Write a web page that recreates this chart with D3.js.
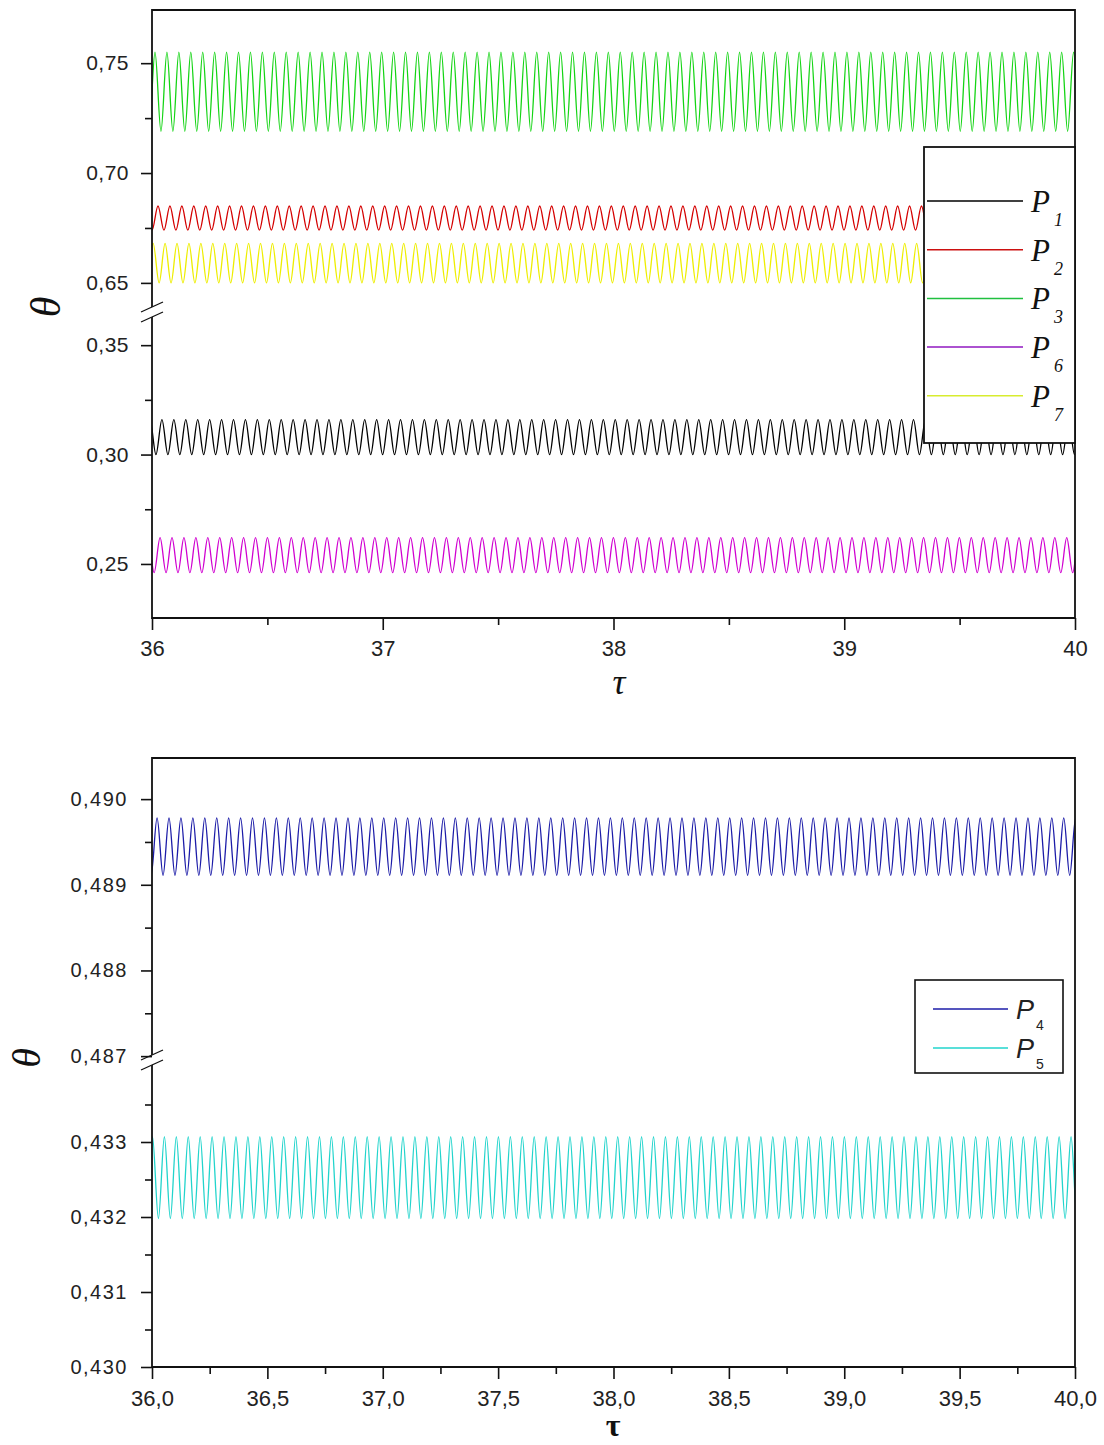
<!DOCTYPE html>
<html><head><meta charset="utf-8">
<script src="https://cdn.jsdelivr.net/npm/d3@7"></script>
<style>html,body{margin:0;padding:0;background:#fff;} svg{display:block;}</style>
</head><body>
<svg id="chart" width="1104" height="1445"></svg>
<script>
// ---------------- data ----------------
const tauDomain = [36, 40];
const oscPeriod = 0.0517;               // ~77 oscillations between τ = 36 and 40

// top panel
const topXTicks = [36, 37, 38, 39, 40];
const topXMinor = [36.5, 37.5, 38.5, 39.5];
const topUpperTicks = [0.65, 0.70, 0.75];
const topUpperMinor = [0.675, 0.725];
const topLowerTicks = [0.25, 0.30, 0.35];
const topLowerMinor = [0.275, 0.325];
const topSubs = ["1", "2", "3", "6", "7"];
const topColors = ["#000000", "#d40000", "#14d414", "#d000d0", "#eeee00"];
const topLegendColors = ["#000000", "#cc1010", "#20c040", "#9018c0", "#d8ec30"];
const topLow = [0.300, 0.674, 0.719, 0.246, 0.650];
const topHigh = [0.316, 0.685, 0.755, 0.262, 0.668];
const topFirstPeak = [36.043, 36.026, 36.013, 36.035, 36.005];
const topSegment = ["lower", "upper", "upper", "lower", "upper"];

// bottom panel
const botXTicks = [36.0, 36.5, 37.0, 37.5, 38.0, 38.5, 39.0, 39.5, 40.0];
const botXMinor = [36.25, 36.75, 37.25, 37.75, 38.25, 38.75, 39.25, 39.75];
const botUpperTicks = [0.487, 0.488, 0.489, 0.490];
const botUpperMinor = [0.4875, 0.4885, 0.4895];
const botLowerTicks = [0.430, 0.431, 0.432, 0.433];
const botLowerMinor = [0.4305, 0.4315, 0.4325, 0.4335];
const botSubs = ["4", "5"];
const botColors = ["#1c1ca8", "#22d4cc"];
const botLow = [0.48911, 0.43198];
const botHigh = [0.48978, 0.43307];
const botFirstPeak = [36.022, 36.002];
const botSegment = ["upper", "lower"];

// ---------------- layout ----------------
const svg = d3.select("#chart");
const L = 152, R = 1075;
const P1 = {top: 10, bottom: 618, brk: 313};
const P2 = {top: 758, bottom: 1367, brk: 1061};

const x = d3.scaleLinear().domain(tauDomain).range([L, R]);

const yTopU = d3.scaleLinear().domain([0.6363, 0.7742]).range([P1.brk, P1.top]);
const yTopL = d3.scaleLinear().domain([0.2253, 0.3647]).range([P1.bottom, P1.brk]);
const yBotU = d3.scaleLinear().domain([0.486943, 0.49048]).range([P2.brk, P2.top]);
const yBotL = d3.scaleLinear().domain([0.430, 0.43408]).range([P2.bottom, P2.brk]);

const fmtC = f => v => d3.format(f)(v).replace(".", ",");

function waveData(low, high, firstPeak) {
  const half = oscPeriod / 2;
  const kStart = -Math.ceil((firstPeak - tauDomain[0]) / half) - 1;
  const pts = [];
  for (let k = kStart; firstPeak + k * half <= tauDomain[1] + oscPeriod; k++) {
    pts.push({t: firstPeak + k * half, v: (Math.abs(k) % 2 === 0) ? high : low});
  }
  return pts;
}

function clip(id, P) {
  svg.append("clipPath").attr("id", id).append("rect")
    .attr("x", L).attr("y", P.top).attr("width", R - L).attr("height", P.bottom - P.top);
}
clip("c1", P1); clip("c2", P2);

function drawSeries(P, clipId, lows, highs, peaks, segs, colors, yU, yL) {
  const g = svg.append("g").attr("clip-path", `url(#${clipId})`);
  lows.forEach((lo, i) => {
    const ys = segs[i] === "upper" ? yU : yL;
    const line = d3.line().x(d => x(d.t)).y(d => ys(d.v)).curve(d3.curveMonotoneX);
    g.append("path").datum(waveData(lo, highs[i], peaks[i]))
      .attr("d", line).attr("fill", "none").attr("stroke", colors[i]).attr("stroke-width", 1.3);
  });
}

function styleAxis(g, fs, ls) {
  g.select(".domain").remove();
  g.selectAll("line").attr("stroke", "#111").attr("stroke-width", 1.6);
  g.selectAll("text").attr("font-family", "'Liberation Sans', Arial, sans-serif")
    .attr("font-size", fs).attr("fill", "#222").style("letter-spacing", ls);
}

function yAxes(P, yU, yL, uT, uM, lT, lM, fmt, pad, fs, ls) {
  [[yU, uT, uM], [yL, lT, lM]].forEach(([s, t, m]) => {
    const a = svg.append("g").attr("transform", `translate(${L},0)`)
      .call(d3.axisLeft(s).tickValues(t).tickSize(11).tickPadding(pad).tickFormat(fmt));
    styleAxis(a, fs, ls);
    const b = svg.append("g").attr("transform", `translate(${L},0)`)
      .call(d3.axisLeft(s).tickValues(m).tickSize(7).tickFormat(""));
    styleAxis(b, fs, ls);
  });
}

function xAxis(P, ticks, minor, fmt, pad, fs) {
  const a = svg.append("g").attr("transform", `translate(0,${P.bottom})`)
    .call(d3.axisBottom(x).tickValues(ticks).tickSize(12).tickPadding(pad).tickFormat(fmt));
  styleAxis(a, fs, "0px");
  const b = svg.append("g").attr("transform", `translate(0,${P.bottom})`)
    .call(d3.axisBottom(x).tickValues(minor).tickSize(7).tickFormat(""));
  styleAxis(b, fs, "0px");
}

function frame(P) {
  const g = svg.append("g").attr("stroke", "#111").attr("stroke-width", 1.8).attr("fill", "none");
  g.append("path").attr("d", `M${L},${P.top}H${R}V${P.bottom}H${L}Z`);
  // axis break
  const c = P.brk;
  g.append("path").attr("d", `M${L - 11},${c - 1} L${L + 11},${c - 11} L${L + 11},${c - 1} L${L - 11},${c + 9}Z`)
    .attr("fill", "#fff").attr("stroke", "none");
  g.append("line").attr("x1", L - 11).attr("y1", c - 1).attr("x2", L + 11).attr("y2", c - 11).attr("stroke-width", 1.3);
  g.append("line").attr("x1", L - 11).attr("y1", c + 9).attr("x2", L + 11).attr("y2", c - 1).attr("stroke-width", 1.3);
}

// ---------------- top panel ----------------
drawSeries(P1, "c1", topLow, topHigh, topFirstPeak, topSegment, topColors, yTopU, yTopL);
frame(P1);
yAxes(P1, yTopU, yTopL, topUpperTicks, topUpperMinor, topLowerTicks, topLowerMinor, fmtC(".2f"), 12, 21, "0.5px");
xAxis(P1, topXTicks, topXMinor, d3.format("d"), 10, 22);

svg.append("text").attr("x", 619).attr("y", 694).attr("text-anchor", "middle")
  .attr("font-family", "'Liberation Serif', 'Times New Roman', serif").attr("font-style", "italic")
  .attr("font-size", 36).attr("fill", "#111").text("τ");
svg.append("text").attr("transform", "translate(60,307) rotate(-90)").attr("text-anchor", "middle")
  .attr("font-family", "'Liberation Serif', 'Times New Roman', serif").attr("font-style", "italic")
  .attr("font-size", 42).attr("fill", "#111").text("θ");

// legend top
{
  const g = svg.append("g");
  g.append("rect").attr("x", 924).attr("y", 147).attr("width", 151).attr("height", 296)
    .attr("fill", "#fff").attr("stroke", "#111").attr("stroke-width", 1.8);
  topSubs.forEach((s, i) => {
    const yy = 201 + i * 48.7;
    g.append("line").attr("x1", 927).attr("x2", 1023).attr("y1", yy).attr("y2", yy)
      .attr("stroke", topLegendColors[i]).attr("stroke-width", 1.5);
    const t = g.append("text").attr("x", 1031).attr("y", yy + 11)
      .attr("font-family", "'Liberation Serif', 'Times New Roman', serif").attr("font-style", "italic")
      .attr("font-size", 31).attr("fill", "#111");
    t.append("tspan").text("P");
    t.append("tspan").attr("font-size", 18).attr("dx", 4).attr("dy", 14).text(s);
  });
}

// ---------------- bottom panel ----------------
drawSeries(P2, "c2", botLow, botHigh, botFirstPeak, botSegment, botColors, yBotU, yBotL);
frame(P2);
yAxes(P2, yBotU, yBotL, botUpperTicks, botUpperMinor, botLowerTicks, botLowerMinor, fmtC(".3f"), 13, 20, "1.5px");
xAxis(P2, botXTicks, botXMinor, fmtC(".1f"), 11, 22);

svg.append("text").attr("x", 613).attr("y", 1436).attr("text-anchor", "middle")
  .attr("font-family", "'Liberation Serif', 'Times New Roman', serif").attr("font-weight", "bold")
  .attr("font-size", 32).attr("fill", "#111").text("τ");
svg.append("text").attr("transform", "translate(40,1058) rotate(-90)").attr("text-anchor", "middle")
  .attr("font-family", "'Liberation Serif', 'Times New Roman', serif").attr("font-style", "italic")
  .attr("font-size", 40).attr("fill", "#111").text("θ");

// legend bottom
{
  const g = svg.append("g");
  g.append("rect").attr("x", 915).attr("y", 980).attr("width", 148).attr("height", 93)
    .attr("fill", "#fff").attr("stroke", "#111").attr("stroke-width", 1.6);
  botSubs.forEach((s, i) => {
    const yy = 1009 + i * 39;
    g.append("line").attr("x1", 933).attr("x2", 1008).attr("y1", yy).attr("y2", yy)
      .attr("stroke", botColors[i]).attr("stroke-width", 1.5);
    const t = g.append("text").attr("x", 1016).attr("y", yy + 10)
      .attr("font-family", "'Liberation Sans', Arial, sans-serif").attr("font-style", "italic")
      .attr("font-size", 27).attr("fill", "#222");
    t.append("tspan").text("P");
    t.append("tspan").attr("font-size", 14).attr("font-style", "normal").attr("dx", 2).attr("dy", 11).text(s);
  });
}
</script>
</body></html>
